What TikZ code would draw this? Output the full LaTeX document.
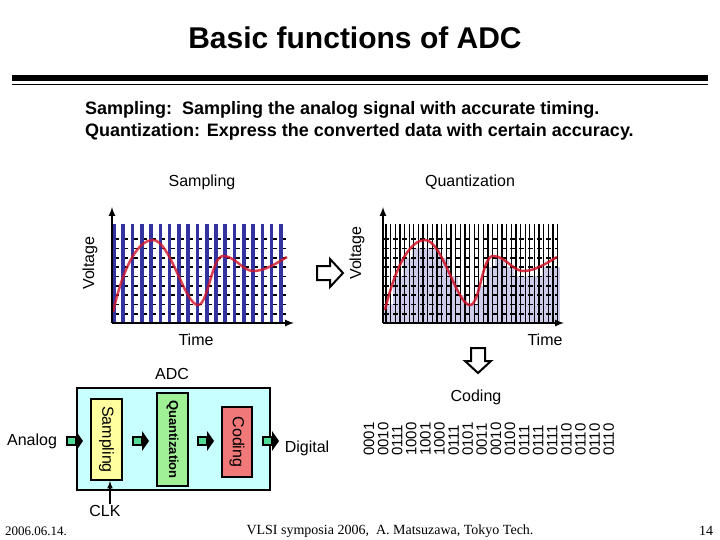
\documentclass[tikz,border=0pt]{standalone}
\usepackage{fontspec}
\setmainfont{Liberation Sans}
\newfontfamily\seriff{Liberation Serif}
\usetikzlibrary{calc}
\definecolor{sblue}{RGB}{50,50,160}
\definecolor{lav}{RGB}{205,205,235}
\definecolor{cyanf}{RGB}{200,255,255}
\definecolor{yelf}{RGB}{255,255,160}
\definecolor{grnf}{RGB}{160,240,150}
\definecolor{redf}{RGB}{240,120,120}
\definecolor{arrg}{RGB}{80,220,150}
\definecolor{curv}{RGB}{210,20,40}
\tikzset{
 lbl/.style={font=\fontsize{16}{16}\selectfont, inner sep=0pt},
 code/.style={font=\fontsize{15}{15}\selectfont, inner sep=0pt, rotate=90, anchor=west, align=left},
 blk/.style={draw=black, line width=2pt, inner sep=0pt},
 greenarr/.pic={\draw[fill=arrg,line width=1.2pt] (0,-4) rectangle (9,4); \fill (9,-10)--(16,0)--(9,10)--cycle;},
 hollow/.style={draw=black, line width=2pt, fill=white}
}
\begin{document}
\begin{tikzpicture}[x=1pt,y=-1pt]
\useasboundingbox (0,0) rectangle (720,540);
\node[font=\fontsize{30}{30}\selectfont\bfseries] (title) at (355,38) {Basic functions of ADC};
\fill (12,75) rectangle (708,81);
\draw[line width=1.5pt] (12,84.5) -- (708,84.5);
\node[font=\fontsize{18}{18}\selectfont\bfseries, anchor=west, align=left, inner sep=0pt] (sub) at (85,121) {Sampling:\ \ Sampling the analog signal with accurate timing.\\[4pt]Quantization: Express the converted data with certain accuracy.};
\node[lbl] (s1) at (202,182) {Sampling};
\node[lbl] (q1) at (470,182) {Quantization};
\node[lbl,rotate=90] (v1) at (90,263) {Voltage};
\node[lbl,rotate=90] (v2) at (357,253) {Voltage};
\node[lbl] (t1) at (196,340) {Time};
\node[lbl] (t2) at (545,340) {Time};
% sampling graph
\foreach \j in {0,...,8} \draw[black, line width=1.6pt, dash pattern=on 5pt off 4.27pt] (114,{239+9.35*\j}) -- (286,{239+9.35*\j});
\foreach \k in {0,...,18} \draw[sblue, line width=3.6pt] ({114+9.27*\k},224) -- ({114+9.27*\k},323);
\draw[curv, line width=2.5pt, opacity=0.8] (113,312) .. controls (125,260) and (140,240) .. (153,240) .. controls (170,240) and (185,305) .. (198,305) .. controls (208,305) and (212,256) .. (223,256) .. controls (235,256) and (243,271) .. (253,271) .. controls (265,271) and (275,264) .. (287,257);
\draw[line width=2pt, -latex] (112,323) -- (112,207);
\draw[line width=2pt, -latex] (112,323) -- (294,323);
% quantization graph
\foreach \h [count=\k from 0] in {2,5,7,8,8,8,7,5,3,2,4,6,7,6,5,5,5,6,6}
  \fill[lav] ({384+9.27*\k},323) rectangle ({393.27+9.27*\k},{323-9.35*\h});
\foreach \k in {0,...,37} \draw[black, line width=1.3pt] ({386+4.64*\k},224) -- ({386+4.64*\k},323);
\foreach \j in {0,...,8} \draw[black, line width=1.6pt, dash pattern=on 5pt off 4pt] (384,{239+9.35*\j}) -- (557,{239+9.35*\j});
\draw[curv, line width=2.5pt, opacity=0.85] (385,310) .. controls (397,260) and (412,240) .. (425,240) .. controls (442,240) and (457,305) .. (470,305) .. controls (480,305) and (482,256) .. (493,256) .. controls (505,256) and (513,271) .. (523,271) .. controls (535,271) and (545,264) .. (557,257);
\draw[line width=2pt, -latex] (383,323) -- (383,207);
\draw[line width=2pt, -latex] (383,323) -- (564,323);
% hollow arrows
\draw[hollow] (317,266) -- (330,266) -- (330,259) -- (343,273) -- (330,287) -- (330,280) -- (317,280) -- cycle;
\draw[hollow] (471,348) -- (485,348) -- (485,361) -- (491,361) -- (478,373) -- (465,361) -- (471,361) -- cycle;
% ADC block
\node[lbl] (adc) at (172,374) {ADC};
\draw[fill=cyanf, line width=2pt] (77,388) rectangle (270,490);
\node[blk, fill=yelf, minimum width=31pt, minimum height=81pt] (samp) at (106.5,439.5) {};
\node[lbl, rotate=-90] at (samp) {Sampling};
\node[blk, fill=grnf, minimum width=31pt, minimum height=93pt] (quan) at (172.5,439.5) {};
\node[font=\fontsize{13}{13}\selectfont\bfseries, rotate=-90, inner sep=0pt] at (quan) {Quantization};
\node[blk, fill=redf, minimum width=30pt, minimum height=70pt] (cod) at (237,442) {};
\node[lbl, rotate=-90] at (cod) {Coding};
\pic at (67,441) {greenarr};
\pic at (133,441) {greenarr};
\pic at (198,441) {greenarr};
\pic at (263,441) {greenarr};
\node[lbl] (an) at (32,441) {Analog};
\node[lbl] (dig) at (307,448) {Digital};
\node[lbl] (clk) at (105,511) {CLK};
\coordinate (clkt) at (110,504);
\draw[line width=1.5pt, -latex] (clkt) -- (clkt |- samp.south);
% codes
\node[lbl] (codl) at (476,397) {Coding};
\foreach \cd [count=\k from 0] in {0001,0010,0111,1000,1001,1000,0111,0101,0011,0010,0100,0111,0111,0111,0110,0110,0110,0110}
  \node[code] at ({369+14.1*\k},456) {\cd};
% footer
\node[font=\seriff\fontsize{13}{13}\selectfont, inner sep=0pt] (date) at (36,531) {2006.06.14.};
\node[font=\seriff\fontsize{14}{14}\selectfont, inner sep=0pt] (foot) at (390,531) {VLSI symposia 2006,\ \ A. Matsuzawa, Tokyo Tech.};
\node[font=\seriff\fontsize{14}{14}\selectfont, inner sep=0pt] (pg) at (706,531) {14};
\end{tikzpicture}
\end{document}
